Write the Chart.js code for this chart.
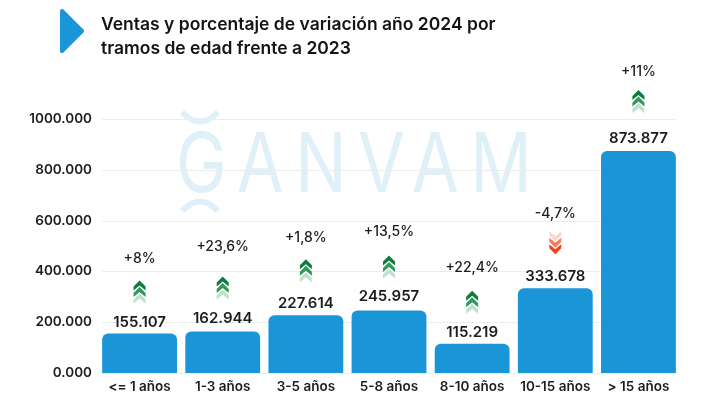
<!DOCTYPE html>
<html>
<head>
<meta charset="utf-8">
<title>Ventas por tramos de edad</title>
<script src="https://cdn.jsdelivr.net/npm/chart.js@4"></script>
<style>
  html, body { margin: 0; padding: 0; background: #fff; }
  #wrap { position: relative; width: 720px; height: 405px; overflow: hidden; }
  #title {
    position: absolute; left: 101px; top: 12px; width: 420px;
    font: 600 17.5px/24px Inter, sans-serif; color: #141416;
  }
  #mark { position: absolute; left: 59px; top: 8px; }
</style>
</head>
<body>
<div id="wrap">
  <svg id="mark" width="27" height="46" viewBox="0 0 27 46">
    <path d="M3 3 L23 23 L3 43 Z" fill="#1a96d8" stroke="#1a96d8" stroke-width="4" stroke-linejoin="round"/>
  </svg>
  <div id="title">Ventas y porcentaje de variación año 2024 por tramos de edad frente a 2023</div>
  <canvas id="barChart" width="720" height="405"></canvas>
</div>
<script>
const categories = ['<= 1 años', '1-3 años', '3-5 años', '5-8 años', '8-10 años', '10-15 años', '> 15 años'];
const ventas = [155107, 162944, 227614, 245957, 115219, 333678, 873877];
const valueLabels = ['155.107', '162.944', '227.614', '245.957', '115.219', '333.678', '873.877'];
const variacion = ['+8%', '+23,6%', '+1,8%', '+13,5%', '+22,4%', '-4,7%', '+11%'];
const yTicks = [0, 200000, 400000, 600000, 800000, 1000000];
const yTickLabels = ['0.000', '200.000', '400.000', '600.000', '800.000', '1000.000'];

// how far above the top of the bar each thing sits (px), the source chart places them by hand
const labelGap = [11, 13, 12, 14, 11, 12, 13];
const arrowGap = [43, 45, 46, 45, 43, 44, 51];
const pctGap = [75, 85, 77, 79, 76, 74, 79];

const watermark = {
  id: 'watermark',
  beforeDraw(chart) {
    const c = chart.ctx;
    c.save();
    c.fillStyle = '#dff0f9';
    c.strokeStyle = '#dff0f9';
    c.save();
    c.translate(176, 192);
    c.scale(0.82, 1);
    c.font = '400 83px Inter, sans-serif';
    c.letterSpacing = '14px';
    c.textBaseline = 'alphabetic';
    c.fillText('GANVAM', 0, 0);
    c.restore();
    c.lineWidth = 6;
    c.beginPath();
    c.moveTo(182, 112);
    c.quadraticCurveTo(200, 131, 218, 112);
    c.stroke();
    c.beginPath();
    c.moveTo(182, 211);
    c.quadraticCurveTo(200, 192, 218, 211);
    c.stroke();
    c.restore();
  }
};

const gridLines = {
  id: 'gridLines',
  beforeDatasetsDraw(chart) {
    const c = chart.ctx, y = chart.scales.y, bars = chart.getDatasetMeta(0).data;
    const x0 = bars[0].x - bars[0].width / 2;
    const x1 = bars[6].x + bars[6].width / 2;
    c.save();
    c.strokeStyle = '#ececec';
    c.lineWidth = 1;
    yTicks.forEach(function (t) {
      const py = Math.round(y.getPixelForValue(t)) + 0.5;
      c.beginPath();
      c.moveTo(x0, py);
      c.lineTo(x1, py);
      c.stroke();
    });
    c.restore();
  }
};

function chevrons(c, x, y, up, colors) {
  // three stacked chevrons, first one at the tip of the arrow
  const dir = up ? 1 : -1;
  colors.forEach(function (col, i) {
    const tip = y - dir * (10 - i * 6.5);
    c.fillStyle = col;
    c.beginPath();
    c.moveTo(x, tip);
    c.lineTo(x + 6, tip + dir * 6);
    c.lineTo(x + 6, tip + dir * 10);
    c.lineTo(x, tip + dir * 5);
    c.lineTo(x - 6, tip + dir * 10);
    c.lineTo(x - 6, tip + dir * 6);
    c.closePath();
    c.fill();
  });
}

const barNotes = {
  id: 'barNotes',
  afterDatasetsDraw(chart) {
    const c = chart.ctx, bars = chart.getDatasetMeta(0).data;
    c.save();
    c.textAlign = 'center';
    c.textBaseline = 'middle';
    bars.forEach(function (bar, i) {
      c.fillStyle = '#1c1c1e';
      c.font = '600 15px Inter, sans-serif';
      c.fillText(valueLabels[i], bar.x, bar.y - labelGap[i]);
      c.font = '500 14px Inter, sans-serif';
      c.fillText(variacion[i], bar.x, bar.y - pctGap[i]);
      if (variacion[i][0] === '-') {
        chevrons(c, bar.x, bar.y - arrowGap[i], false, ['#f0441c', '#f77a5c', '#fbd5cb']);
      } else {
        chevrons(c, bar.x, bar.y - arrowGap[i], true, ['#0b7d3c', '#2f9a5c', '#bfe0cc']);
      }
    });
    c.restore();
  }
};

new Chart(document.getElementById('barChart'), {
  type: 'bar',
  data: {
    labels: categories,
    datasets: [{
      data: ventas,
      backgroundColor: '#1a96d8',
      borderRadius: { topLeft: 6, topRight: 6, bottomLeft: 0, bottomRight: 0 },
      borderSkipped: 'bottom',
      categoryPercentage: 1,
      barPercentage: 0.9
    }]
  },
  options: {
    responsive: false,
    animation: false,
    layout: { padding: { top: 119, right: 40, left: 0, bottom: 0 } },
    plugins: { legend: { display: false }, tooltip: { enabled: false } },
    scales: {
      x: {
        afterFit(s) { s.height = 32; },
        grid: { display: false, drawTicks: false },
        border: { display: false },
        ticks: {
          color: '#1c1c1e', padding: 6, maxRotation: 0,
          font: { family: 'Inter', size: 13.5, weight: '600' }
        }
      },
      y: {
        min: 0,
        max: 1000000,
        afterFit(s) { s.width = 98; },
        afterBuildTicks(s) { s.ticks = yTicks.map(function (v) { return { value: v }; }); },
        grid: { display: false, drawTicks: false },
        border: { display: false },
        ticks: {
          color: '#1c1c1e', padding: 6,
          font: { family: 'Inter', size: 13.5, weight: '600' },
          callback(v) { return yTickLabels[yTicks.indexOf(v)]; }
        }
      }
    }
  },
  plugins: [watermark, gridLines, barNotes]
});
</script>
</body>
</html>
